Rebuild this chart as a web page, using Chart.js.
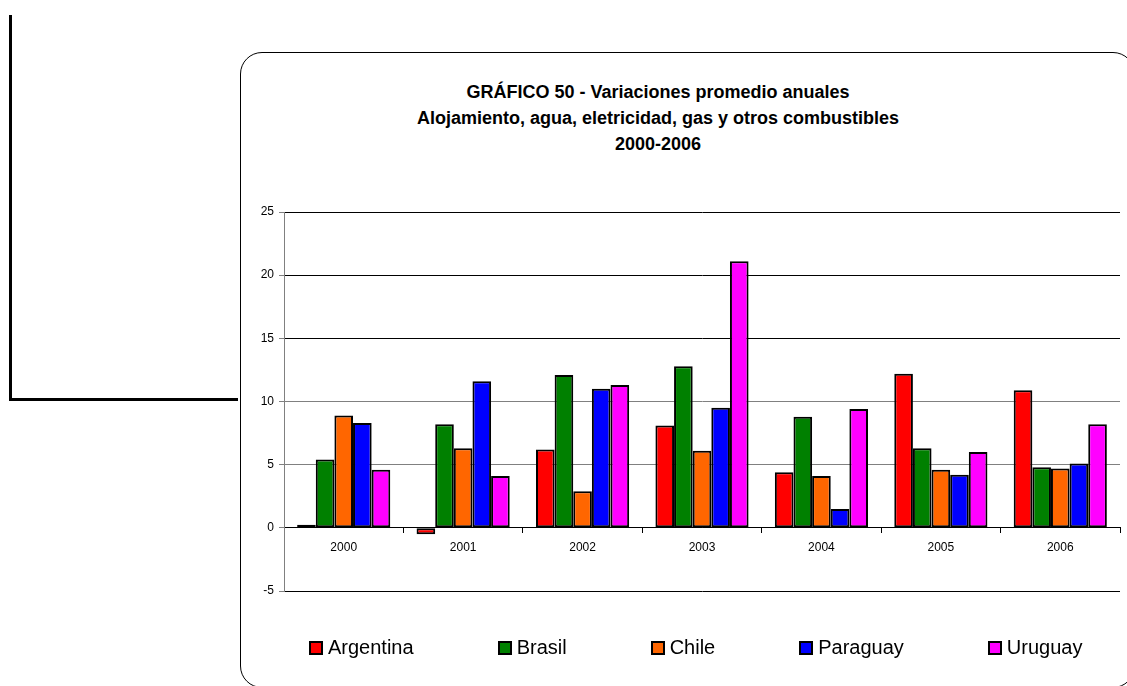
<!DOCTYPE html>
<html lang="es">
<head>
<meta charset="utf-8">
<title>Gráfico 50</title>
<script src="https://cdn.jsdelivr.net/npm/chart.js@4.4.1/dist/chart.umd.min.js"></script>
<style>
  html, body { margin: 0; padding: 0; background: #fff; }
  body { width: 1127px; height: 686px; position: relative; overflow: hidden; font-family: "Liberation Sans", Arial, sans-serif; color: #000; }
  .marco-izq { position: absolute; left: 9px; top: 15px; width: 226px; height: 383px; border-left: 3px solid #000; border-bottom: 3px solid #000; }
  .caja { position: absolute; left: 240px; top: 52px; width: 895px; height: 636px; border: 1px solid #000; border-radius: 22px; box-sizing: border-box; }
  .titulo { position: absolute; left: 658px; top: 79px; transform: translateX(-50%); text-align: center; font-weight: bold; font-size: 18px; line-height: 26px; white-space: nowrap; }
  .leyenda { position: absolute; left: 309px; top: 636px; display: flex; gap: 84px; font-size: 20px; line-height: 23px; }
  .item { display: flex; align-items: center; }
  .cuadro { width: 10px; height: 10px; border: 2px solid #000; margin-right: 5px; }
  canvas { position: absolute; left: 0; top: 0; }
</style>
</head>
<body>
<div class="marco-izq"></div>
<div class="caja"></div>
<div class="titulo">GRÁFICO 50 - Variaciones promedio anuales<br>Alojamiento, agua, eletricidad, gas y otros combustibles<br>2000-2006</div>
<canvas id="grafico" width="1127" height="686"></canvas>
<div class="leyenda" id="leyenda"></div>

<script>
// ---------------- DATOS ----------------
const anos = ["2000", "2001", "2002", "2003", "2004", "2005", "2006"];

const argentina = [0.25, -0.5, 6.2, 8.1, 4.4, 12.2, 10.9];
const brasil    = [5.4, 8.2, 12.1, 12.8, 8.8, 6.3, 4.8];
const chile     = [8.9, 6.3, 2.9, 6.1, 4.1, 4.6, 4.7];
const paraguay  = [8.3, 11.6, 11.0, 9.5, 1.5, 4.2, 5.1];
const uruguay   = [4.6, 4.1, 11.3, 21.1, 9.4, 6.0, 8.2];

const paises  = ["Argentina", "Brasil", "Chile", "Paraguay", "Uruguay"];
const series  = [argentina, brasil, chile, paraguay, uruguay];
const colores = ["#ff0000", "#008000", "#ff6600", "#0000ff", "#ff00ff"];

// eje Y
const ejeMin = -5;
const ejeMax = 25;
const paso = 5;

const fuente = { family: "'Liberation Sans', Arial, sans-serif", size: 12 };

// ---------------- GRAFICO ----------------
const ctx = document.getElementById("grafico").getContext("2d");
const grafico = new Chart(ctx, {
  type: "bar",
  data: {
    labels: anos,
    datasets: paises.map((pais, i) => ({
      label: pais,
      data: series[i],
      backgroundColor: colores[i],
      borderColor: "#000",
      borderWidth: 2,
      borderSkipped: false
    }))
  },
  options: {
    responsive: false,
    animation: false,
    layout: { padding: { left: 229, right: 7, top: 212, bottom: 95 } },
    datasets: { bar: { categoryPercentage: 0.78, barPercentage: 1 } },
    plugins: {
      legend: { display: false },
      title: { display: false },
      tooltip: { enabled: false }
    },
    scales: {
      x: {
        position: { y: 0 },
        grid: { drawOnChartArea: false, tickLength: 5, color: "#000", offset: true },
        border: { color: "#000", width: 1 },
        ticks: { color: "#000", font: fuente, padding: 8, maxRotation: 0 }
      },
      y: {
        min: ejeMin,
        max: ejeMax,
        ticks: { stepSize: paso, color: "#000", font: fuente, padding: 5 },
        grid: {
          // las lineas de 5 y 10 salen grises en el original
          color: c => (c.tick && (c.tick.value === 5 || c.tick.value === 10)) ? "#808080" : "#000",
          tickColor: "#808080",
          tickLength: 5
        },
        border: { color: "#808080" },
        afterFit: s => { s.width = 55; }
      }
    }
  }
});

// ---------------- LEYENDA ----------------
const leyenda = document.getElementById("leyenda");
grafico.data.datasets.forEach(ds => {
  const item = document.createElement("div");
  item.className = "item";
  const cuadro = document.createElement("span");
  cuadro.className = "cuadro";
  cuadro.style.background = ds.backgroundColor;
  const texto = document.createElement("span");
  texto.textContent = ds.label;
  item.appendChild(cuadro);
  item.appendChild(texto);
  leyenda.appendChild(item);
});
</script>
</body>
</html>
